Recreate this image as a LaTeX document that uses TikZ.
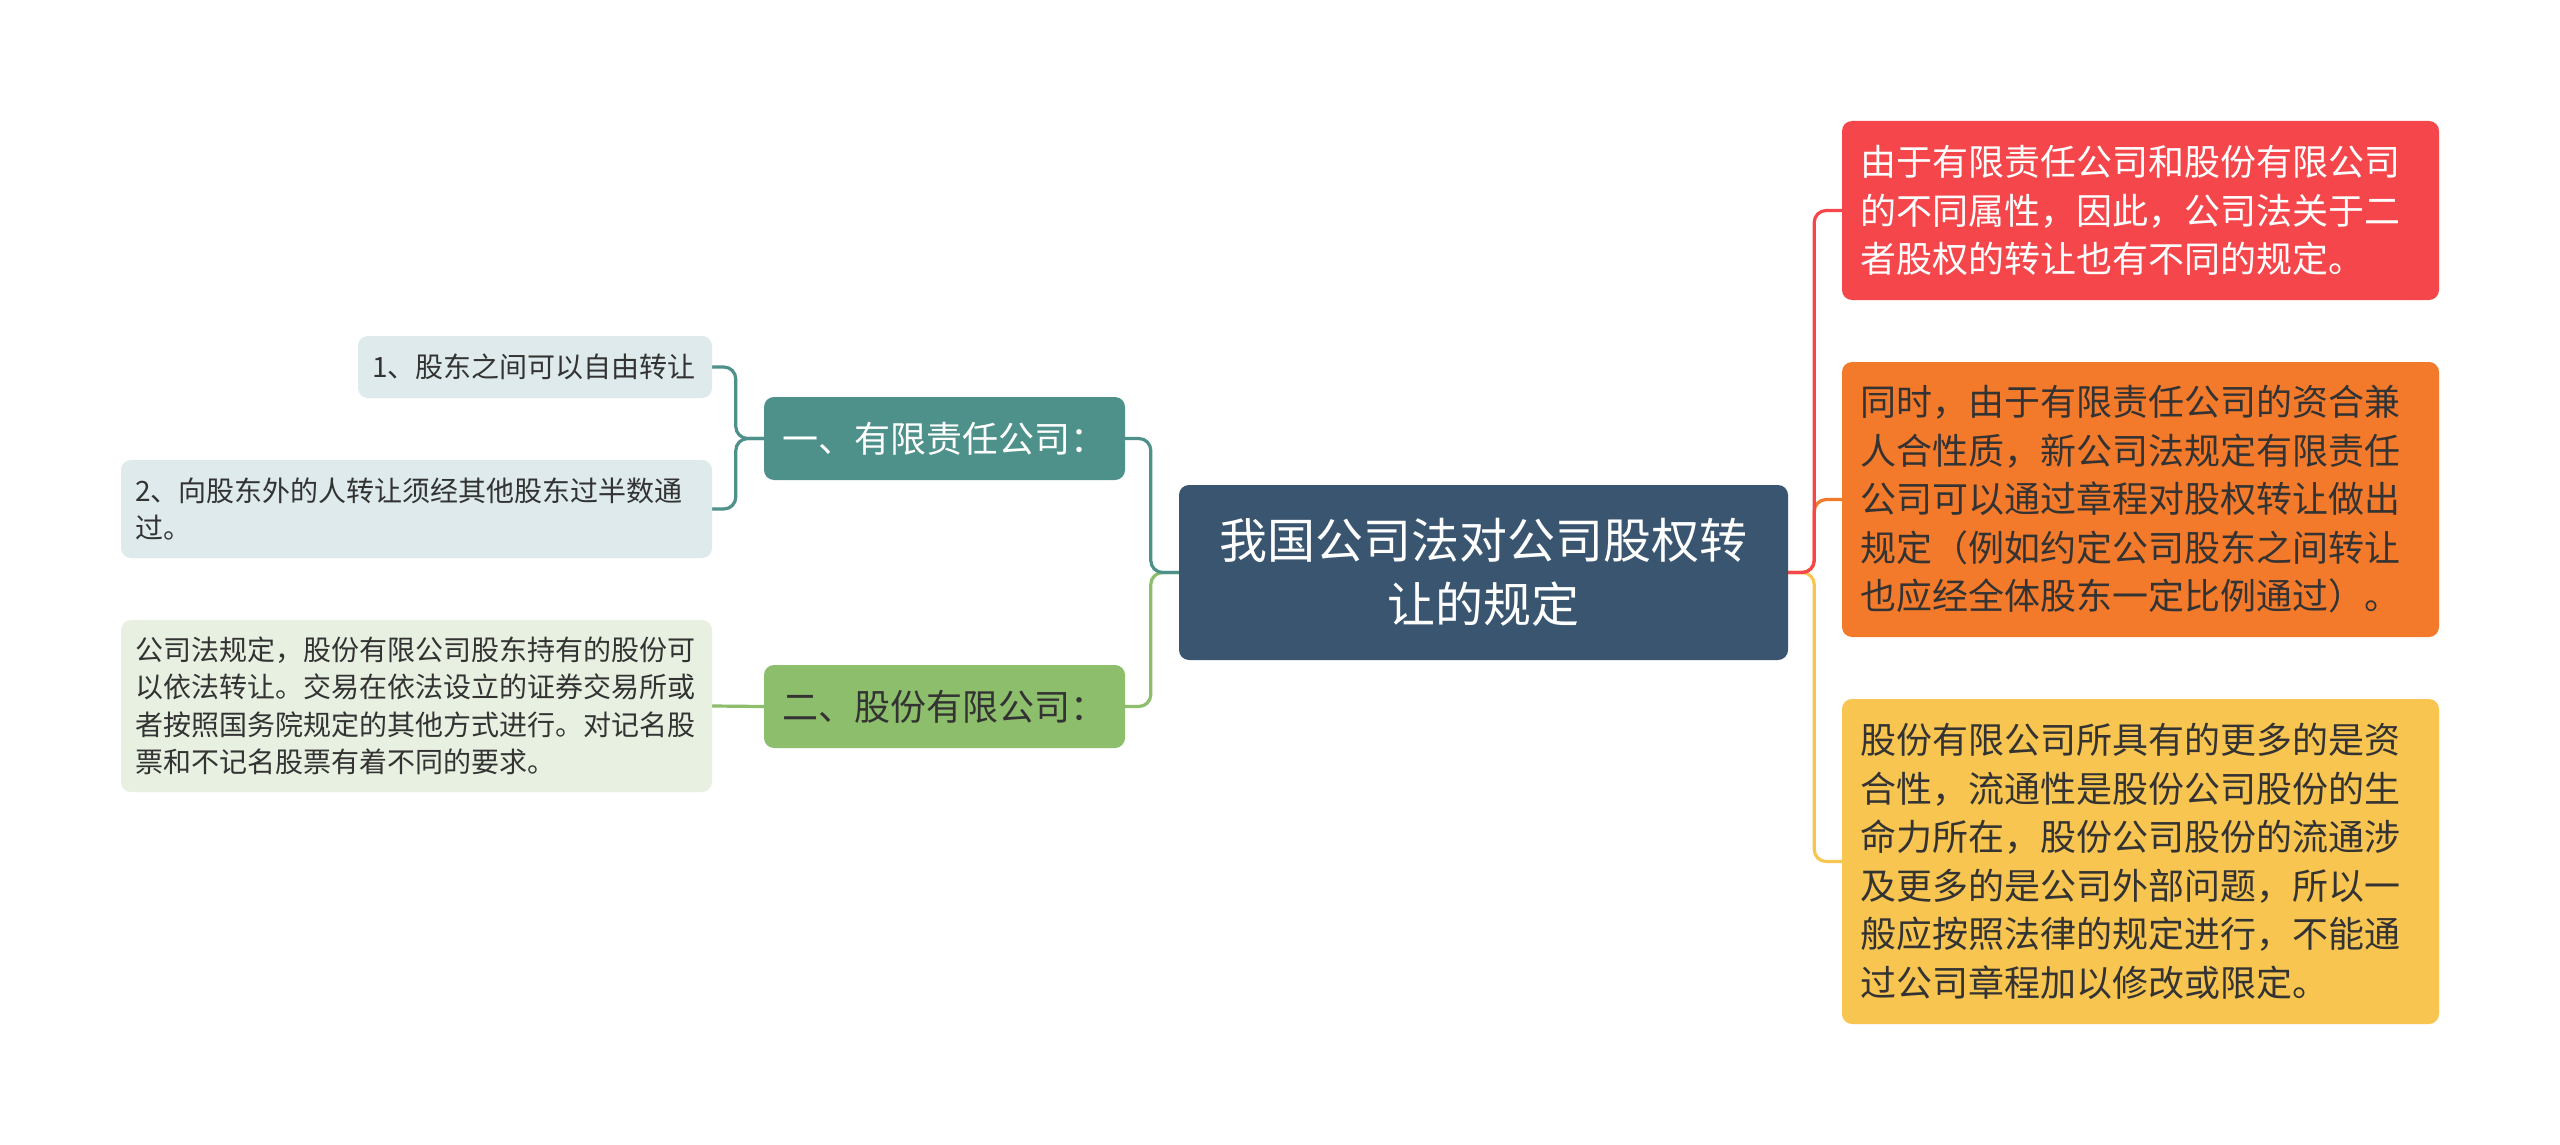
\documentclass[tikz,border=0pt]{standalone}
\usepackage{fontspec}
\setmainfont{Noto Sans CJK SC}
\usetikzlibrary{backgrounds}
\definecolor{cdark}{HTML}{3A5570}
\definecolor{cteal}{HTML}{4E918A}
\definecolor{cgreen}{HTML}{8DBE6C}
\definecolor{cleafa}{HTML}{DEEAEB}
\definecolor{cleafb}{HTML}{E8F1E1}
\definecolor{cred}{HTML}{F5474B}
\definecolor{corange}{HTML}{F47A2B}
\definecolor{cyellow}{HTML}{F8C551}
\definecolor{ctext}{HTML}{333333}
\tikzset{
  boxbase/.style={rounded corners=10pt, inner ysep=0pt, anchor=center},
  leaf/.style={boxbase, text=ctext, align=left, inner xsep=14pt,
     font=\fontsize{28}{37.5}\selectfont},
  rbox/.style={boxbase, align=left, inner xsep=18pt,
     text width=561pt, minimum height=#1,
     font=\fontsize{36}{48.5}\selectfont},
  mbox/.style={boxbase, minimum width=361pt, minimum height=83pt,
     font=\fontsize{36}{44}\selectfont},
  conn/.style={line width=3.2pt, rounded corners=12pt}
}
\begin{document}
\begin{tikzpicture}[x=1pt,y=-1pt]
\useasboundingbox (0,0) rectangle (2560,1145);
% central
\node[boxbase, fill=cdark, text=white, align=center, text width=580pt, inner xsep=14.5pt,
  minimum height=175pt, font=\fontsize{48}{64}\selectfont] (c) at (1483.5,572.5)
  {我国公司法对公司股权转\\让的规定};
% main branches
\node[mbox, fill=cteal, text=white] (n1) at (944.5,438.5) {一、有限责任公司：};
\node[mbox, fill=cgreen, text=ctext] (n2) at (944.5,706.5) {二、股份有限公司：};
% leaves
\node[leaf, fill=cleafa, text width=326pt, minimum height=62pt] (l1) at (535,367)
  {1、股东之间可以自由转让};
\node[leaf, fill=cleafa, text width=563pt, minimum height=98pt] (l2) at (416.5,509)
  {2、向股东外的人转让须经其他股东过半数通\\过。};
\node[leaf, fill=cleafb, text width=563pt, minimum height=172pt] (l3) at (416.5,706)
  {公司法规定，股份有限公司股东持有的股份可\\以依法转让。交易在依法设立的证券交易所或\\者按照国务院规定的其他方式进行。对记名股\\票和不记名股票有着不同的要求。};
% right
\node[rbox=179pt, fill=cred, text=white] (r) at (2140.5,210.5)
  {由于有限责任公司和股份有限公司\\的不同属性，因此，公司法关于二\\者股权的转让也有不同的规定。};
\node[rbox=275pt, fill=corange, text=ctext] (o) at (2140.5,499.5)
  {同时，由于有限责任公司的资合兼\\人合性质，新公司法规定有限责任\\公司可以通过章程对股权转让做出\\规定（例如约定公司股东之间转让\\也应经全体股东一定比例通过）。};
\node[rbox=325pt, fill=cyellow, text=ctext] (y) at (2140.5,861.5)
  {股份有限公司所具有的更多的是资\\合性，流通性是股份公司股份的生\\命力所在，股份公司股份的流通涉\\及更多的是公司外部问题，所以一\\般应按照法律的规定进行，不能通\\过公司章程加以修改或限定。};
\begin{scope}[on background layer]
\fill[white] (0,0) rectangle (2560,1145);
\draw[conn, cgreen] (c.west) -- ++(-28,0) |- (n2.east);
\draw[conn, cteal] (c.west) -- ++(-28,0) |- (n1.east);
\draw[conn, cteal] (n1.west) -- ++(-28,0) |- (l2.east);
\draw[conn, cteal] (n1.west) -- ++(-28,0) |- (l1.east);
\draw[conn, cgreen] (n2.west) -- (l3.east);
\draw[conn, cyellow] (c.east) -- ++(26,0) |- (y.west);
\draw[conn, corange] (c.east) -- ++(26,0) |- (o.west);
\draw[conn, cred] (c.east) -- ++(26,0) |- (r.west);
\end{scope}
\end{tikzpicture}
\end{document}
